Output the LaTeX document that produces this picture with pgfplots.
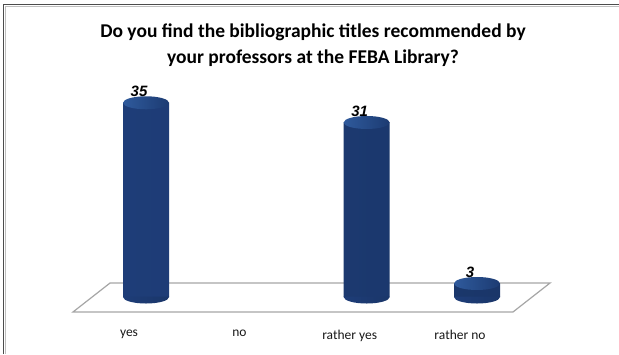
\documentclass[border=0pt]{standalone}
\usepackage{pgfplots}
\pgfplotsset{compat=1.18}
\usepackage{fontspec}
\setmainfont{Carlito}
\newfontfamily\labfont{Liberation Sans}
\definecolor{barL}{HTML}{1E3D78}
\definecolor{barM}{HTML}{3461A8}
\definecolor{barR}{HTML}{1A3669}
\definecolor{topL}{HTML}{2F5A9C}
\definecolor{topR}{HTML}{1C3B72}
\definecolor{floorc}{HTML}{A6A6A6}
\pgfdeclareplotmark{cyltop}{%
  \shade[draw=none, left color=topL, right color=topR] (0pt,0pt) ellipse [x radius=23pt, y radius=6.5pt];%
}
\pgfdeclareplotmark{cylbot}{%
  \shade[draw=none, left color=barL, middle color=barM, right color=barR] (-23pt,0.5pt) -- (-23pt,0pt) arc [start angle=180, end angle=360, x radius=23pt, y radius=6.5pt] -- (23pt,0.5pt) -- cycle;%
}
\begin{document}
\begin{tikzpicture}
\useasboundingbox (0,0) rectangle (619pt,354pt);
\fill[white] (0,0) rectangle (619pt,354pt);
\draw[line width=1.3pt, color=black!70] (3.5pt,0pt) -- (3.5pt,349.5pt) -- (619pt,349.5pt);
\draw[line width=0.8pt, color=black!25] (5pt,0pt) -- (5pt,348pt) -- (619pt,348pt);
\begin{axis}[
  at={(68.8pt,40.1pt)}, anchor=south west,
  scale only axis, width=485.45pt, height=225.2pt,
  xmin=-0.7, xmax=3.7, ymin=-3, ymax=37,
  clip=false,
  axis line style={draw=none},
  major tick length=0pt,
  ytick=\empty,
  xtick={0,1,2,3},
  xticklabels={yes,no,rather yes,rather no},
  xticklabel style={font=\fontsize{13.5}{15}\selectfont, xshift=-17pt, yshift=-12.5pt, text=black!90},
  title={Do you find the bibliographic titles recommended by\\your professors at the FEBA Library?},
  title style={at={(0.503,1.165)}, anchor=center, align=center, font=\fontsize{19.5}{26}\selectfont\bfseries},
  /pgf/number format/assume math mode=true,
]
% floor
\draw[floorc, line width=1.2pt] (axis cs:-0.662,-2.66) -- (axis cs:3.326,-2.66) -- (axis cs:3.662,2.49) -- (axis cs:-0.326,2.49) -- cycle;
% bottom caps
\addplot[only marks, mark=cylbot, mark options={draw=none}] coordinates {(0,0) (2,0) (3,0)};
% bar bodies
\addplot[ybar, bar width=46pt, draw=none, left color=barL, middle color=barM, right color=barR]
  coordinates {(0,34.5) (2,31) (3,2.4)};
% top caps with value labels
\addplot[only marks, mark=cyltop, mark options={draw=none},
  point meta=explicit,
  nodes near coords,
  every node near coord/.append style={font=\labfont\fontsize{15}{17}\selectfont\bfseries\itshape, anchor=south, xshift=-7pt, yshift=4.5pt, inner sep=1pt, text=black}]
  coordinates {(0,34.5) [35] (2,31) [31] (3,2.4) [3]};
\end{axis}
\end{tikzpicture}
\end{document}
